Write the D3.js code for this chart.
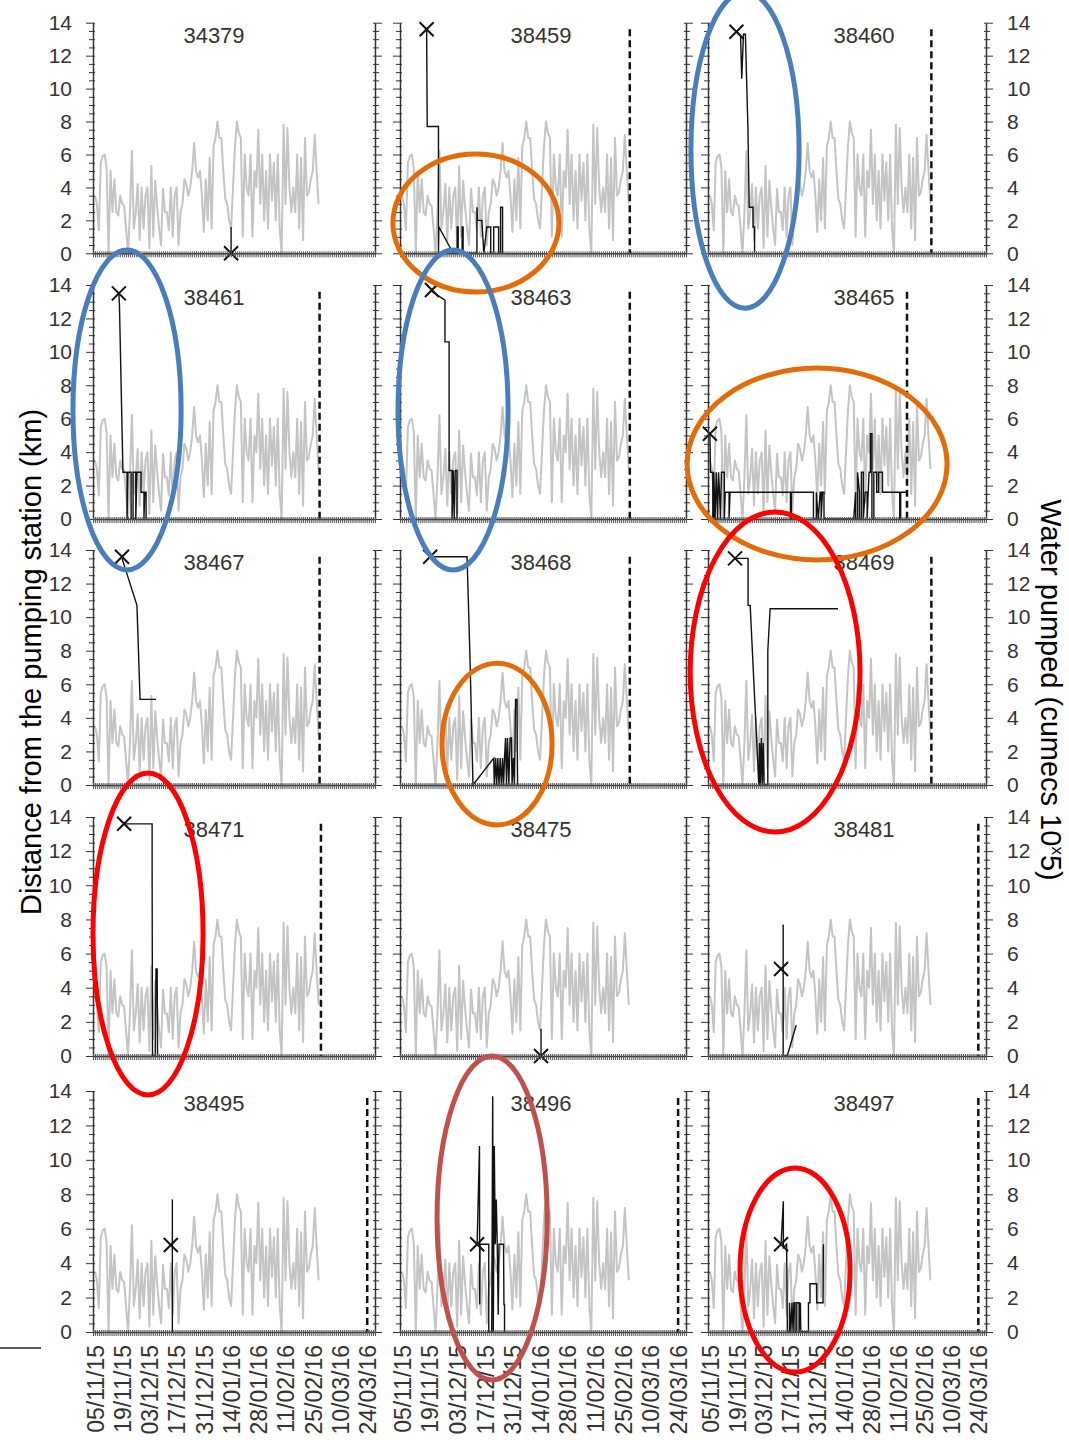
<!DOCTYPE html>
<html>
<head>
<meta charset="utf-8">
<script src="https://cdn.jsdelivr.net/npm/d3@7"></script>
<style>
  body { margin: 0; background: #fff; }
  text { font-family: "Liberation Sans", Arial, sans-serif; }
</style>
</head>
<body>
<svg id="chart" width="1069" height="1440"></svg>
<script>
// ---- data ----
// water pumped, one value per day from 05/11/15
var pumped = [3.5, 3.0, 1.4, 5.5, 5.9, 6.0, 5.2, 0, 5.0, 2.5,
  4.5, 2.5, 2.3, 3.5, 3.0, 2.9, 1.5, 0, 2.5, 6.2,
  1.5, 2.5, 4.2, 0.8, 4.0, 1.5, 3.5, 4.0, 0.3, 5.3,
  1.0, 4.4, 2.8, 1.5, 0.5, 3.9, 2.5, 2.5, 1.4, 4.0,
  1.0, 3.5, 4.0, 0.5, 2.5, 3.0, 4.5, 4.2, 3.5, 4.0,
  5.0, 6.7, 5.0, 4.6, 5.0, 3.5, 1.3, 4.5, 2.0, 5.8,
  1.5, 6.5, 7.0, 8.0, 7.0, 7.0, 5.0, 3.3, 3.0, 2.0,
  1.5, 4.0, 6.5, 8.0, 7.3, 7.0, 1.0, 6.0, 4.0, 3.5,
  6.0, 1.0, 5.0, 4.0, 7.5, 3.0, 6.0, 2.0, 5.0, 1.5,
  6.0, 3.2, 5.5, 2.0, 6.0, 1.5, 0, 7.8, 3.0, 7.6,
  4.0, 2.5, 4.0, 2.5, 6.0, 1.5, 5.8, 0.8, 7.0, 3.5,
  3.7, 4.5, 5.0, 7.2, 5.0, 3.0];

var tagIds = ["34379", "38459", "38460", "38461", "38463", "38465", "38467", "38468",
  "38469", "38471", "38475", "38481", "38495", "38496", "38497"];

// release point (day since 05/11/15, km)
var releaseDay  = [70, 12.5, 13.8, 12.3, 15.2, 0, 13.9, 14.3, 13.1, 15, 70.5, 37.1, 39, 38.1, 37.1];
var releaseDist = [0, 13.6, 13.45, 13.5, 13.7, 5.1, 13.6, 13.6, 13.5, 13.6, 0, 5.1, 5.05, 5.1, 5.1];
// last detection day (dashed line), null = none
var endDay = [null, 115.5, 115.5, 115.5, 115.5, 102.8, 115.5, 115.5, 115.5, 116.2, null, 140, 140, 140, 140];

// fish tracks: [day since 05/11/15, distance km]
var track34379 = [[70, 1.6], [70, 0]];
var track38459 = [[12.5, 13.6], [12.8, 7.7], [18.5, 7.7], [18.5, 0], [18.7, 1.6], [26, 0], [28, 0], [28, 1.6],
  [28.5, 1.6], [28.5, 0], [30.5, 0], [30.5, 1.6], [31, 1.6], [31, 0], [38, 0], [38, 2.8], [38.3, 2.0],
  [40.5, 2.0], [41.5, 0], [43, 1.6], [45, 1.6], [45, 0], [46.5, 0], [46.5, 1.6], [49, 1.6], [49, 0],
  [50, 0], [50, 2.8], [51, 2.8], [51, 0]];
var track38460 = [[13.8, 13.5], [16, 13.2], [16.6, 10.6], [17.5, 13.3], [18.5, 13.3], [19.8, 7.7],
  [20.5, 2.8], [22.5, 2.8], [22.5, 1.6], [23.3, 1.6], [23.3, 0]];
var track38461 = [[12.3, 13.5], [12.6, 12.8], [14.4, 2.8], [16.5, 2.8], [16.5, 0], [17, 2.8], [18.6, 2.8],
  [18.6, 0], [19.6, 0], [19.6, 2.8], [21, 2.8], [21, 0], [21.6, 2.8], [23.7, 2.8], [23.7, 1.6],
  [25.2, 1.6], [25.2, 0], [25.6, 1.6], [26.3, 1.6], [26.3, 0]];
var track38463 = [[15.2, 13.6], [21.8, 13.1], [21.8, 10.6], [23.9, 10.6], [23.9, 2.9], [25.4, 2.9],
  [25.4, 0], [26, 2.9], [26.5, 0], [27, 2.9], [27.9, 2.9], [27.9, 0]];
var track38465 = [[0, 5.1], [0.3, 2.8], [1.5, 2.8], [1.5, 0], [2, 0], [2, 2.8], [2.7, 0], [3.3, 2.8],
  [4, 0], [4.5, 2.8], [5, 1.6], [5.5, 0], [6, 2.8], [7.5, 2.8], [7.5, 0], [8, 1.6], [10, 1.6], [10, 0],
  [10.5, 1.6], [42, 1.6], [42, 0], [42.5, 0], [42.5, 1.6], [54, 1.6], [54, 0], [55.5, 0], [55.5, 1.6],
  [56.5, 0], [57.5, 1.6], [58, 1.6], [58, 0], [58.7, 1.6], [59.5, 1.6], [59.5, 0], [75, 0], [76, 1.6],
  [76, 0], [77, 0], [77, 2.8], [78, 1.6], [78, 0], [79, 0], [79, 2.8], [80, 2.8], [80, 0], [81, 1.6],
  [82, 1.6], [82, 0], [83, 2.8], [83.7, 2.8], [83.7, 5.1], [84.5, 5.1], [84.5, 0], [85.5, 0],
  [85.5, 2.8], [87, 2.8], [87, 1.6], [88, 1.6], [88, 2.8], [90, 2.8], [90, 1.6], [99, 1.6], [99, 0],
  [99.5, 0], [99.5, 1.6], [102.5, 1.6]];
var track38467 = [[13.9, 13.5], [21.6, 10.7], [23.2, 5.1], [31.4, 5.1]];
var track38468 = [[14.3, 13.6], [33, 13.6], [34.5, 7.5], [36, 0], [46.5, 1.6], [46.8, 0], [47.5, 1.6],
  [48, 0], [48.6, 1.6], [49.2, 0], [49.8, 1.6], [50.4, 0], [51, 1.6], [51.5, 0], [52, 1.6], [52.5, 2.8],
  [53, 0], [53.5, 2.8], [54.2, 0], [54.8, 2.8], [55.5, 2.8], [55.8, 0], [56.5, 1.6], [57, 0],
  [57.6, 5.1], [58.3, 5.1], [58.6, 0]];
var track38469 = [[13.1, 13.5], [19.9, 13.5], [19.9, 10.7], [21, 10.7], [25.5, 0], [25.9, 2.5],
  [26.3, 0], [26.8, 2.8], [27.3, 0], [27.8, 2.5], [28.3, 0], [30.2, 0], [30.2, 8], [31.4, 10.5],
  [66.8, 10.5]];
var track38471 = [[15, 13.6], [29.4, 13.6], [29.4, 10.6], [29.6, 0], [31, 0], [31.4, 5.1], [32, 5.1], [32.2, 0]];
var track38475 = [[70.5, 1.6], [70.5, 0]];
var track38481 = [[38.2, 7.7], [38.2, 0], [40.3, 0], [45, 1.8]];
var track38495 = [[39.8, 7.7], [39.8, 0]];
var track38496 = [[38.1, 5.1], [39.3, 10.8], [39.4, 1.6], [39.6, 5.1], [44, 5.1], [44, 0], [45.5, 0],
  [46, 13.7], [46.3, 0], [46.8, 10.8], [47.3, 5.1], [47.8, 7.7], [48.3, 5.1], [48.8, 1], [49.2, 5.1],
  [51.5, 5.1], [51.7, 1.6], [52, 1.6], [52, 0]];
var track38497 = [[37.1, 5.1], [38.3, 7.6], [38.3, 4.9], [40, 5.1], [40.4, 0], [41.5, 0], [41.5, 1.7],
  [42.2, 0], [42.8, 1.7], [43.4, 0], [43.8, 1.7], [44.4, 1.7], [44.4, 0], [45.3, 0], [45.3, 1.7],
  [46.5, 1.7], [46.5, 0], [47.2, 1.7], [47.4, 0], [51.4, 0], [51.4, 1.7], [52.2, 1.7], [52.2, 2.8],
  [55.7, 2.8], [55.7, 1.7], [59, 1.7], [59.2, 5.1]];

var tracks = [track34379, track38459, track38460, track38461, track38463, track38465, track38467,
  track38468, track38469, track38471, track38475, track38481, track38495, track38496, track38497];

var dateTicks = ["05/11/15", "19/11/15", "03/12/15", "17/12/15", "31/12/15", "14/01/16",
  "28/01/16", "11/02/16", "25/02/16", "10/03/16", "24/03/16"];

// highlight ellipses: panel index, centre (day, km), radii (days, km)
var ellipsePanel = [1, 2, 3, 4, 5, 8, 7, 9, 13, 14];
var ellipseDay   = [37.5, 18.3, 16.5, 25.9, 55.9, 34, 48.2, 27.3, 45.7, 44.4];
var ellipseDist  = [1.84, 6.27, 6.52, 6.52, 3.29, 6.73, 2.44, 7.15, 6.62, 3.6];
var ellipseRDay  = [42.1, 28.2, 27.8, 27.9, 67.8, 44.3, 27.9, 28.3, 27.9, 28.7];
var ellipseRDist = [4.19, 9.6, 9.57, 9.57, 5.74, 9.53, 4.82, 9.43, 9.41, 5.93];
var ellipseColor = ["#e36c09", "#4a7ebb", "#4a7ebb", "#4a7ebb", "#e36c09", "#ff0000", "#e36c09",
  "#ff0000", "#c0504d", "#ff0000"];

// ---- layout ----
var colX0 = [93, 400, 708], colX1 = [375, 686, 986];
var rowTop = [22.7, 285, 550, 817, 1091], rowBottom = [253.3, 519, 785, 1056, 1332];
var titleX = [214, 541, 864];

var parseDay = d3.utcParse("%d/%m/%y");
var day0 = parseDay("05/11/15");
var xDomain = [parseDay("04/11/15"), parseDay("28/03/16")];
function dayDate(d) { return new Date(day0.getTime() + d * 864e5); }

var svg = d3.select("#chart");
var scales = [];

tagIds.forEach(function(id, i) {
  var r = Math.floor(i / 3), c = i % 3;
  var x = d3.scaleUtc().domain(xDomain).range([colX0[c], colX1[c]]);
  var y = d3.scaleLinear().domain([0, 14]).range([rowBottom[r], rowTop[r]]);
  scales.push({x: x, y: y});
  var g = svg.append("g");

  // water pumped
  g.append("path")
    .datum(pumped)
    .attr("fill", "none")
    .attr("stroke", "#c4c4c4")
    .attr("stroke-width", 2)
    .attr("stroke-linejoin", "round")
    .attr("d", d3.line()
      .x(function(d, k) { return x(dayDate(k)); })
      .y(function(d) { return y(d); }));

  // fish track
  g.append("path")
    .datum(tracks[i])
    .attr("fill", "none")
    .attr("stroke", "#111")
    .attr("stroke-width", 1.4)
    .attr("d", d3.line()
      .x(function(d) { return x(dayDate(d[0])); })
      .y(function(d) { return y(d[1]); }));

  // last detection
  if (endDay[i] !== null) {
    g.append("line")
      .attr("x1", x(dayDate(endDay[i]))).attr("x2", x(dayDate(endDay[i])))
      .attr("y1", y(13.6)).attr("y2", y(0))
      .attr("stroke", "#111")
      .attr("stroke-width", 2.5)
      .attr("stroke-dasharray", "7,4");
  }

  // release marker
  g.append("path")
    .attr("transform", "translate(" + x(dayDate(releaseDay[i])) + "," + y(releaseDist[i]) + ")")
    .attr("d", "M-7,-7L7,7M-7,7L7,-7")
    .attr("stroke", "#111")
    .attr("stroke-width", 2);

  // y axes, both sides
  var yTicks = d3.range(0, 14.01, 0.5);
  [0, 1].forEach(function(side) {
    var dir = side === 0 ? -1 : 1;
    var showLabels = (side === 0 && c === 0) || (side === 1 && c === 2);
    var ax = (side === 0 ? d3.axisLeft(y) : d3.axisRight(y))
      .tickValues(yTicks)
      .tickSizeOuter(0)
      .tickSizeInner(4)
      .tickFormat(function(v) { return showLabels && v % 2 === 0 ? v : ""; });
    var ag = g.append("g")
      .attr("transform", "translate(" + (side === 0 ? colX0[c] : colX1[c]) + ",0)")
      .call(ax);
    ag.select(".domain").attr("stroke", "#333").attr("stroke-width", 1.5);
    ag.selectAll(".tick line")
      .attr("stroke", "#333")
      .attr("x1", -2 * dir)
      .attr("x2", function(v) { return (v % 2 === 0 ? 7 : 4) * dir; });
    ag.selectAll(".tick text")
      .attr("x", side === 0 ? -21 : 21)
      .attr("font-size", 21)
      .attr("fill", "#333");
  });

  // x axis with daily ticks
  var xg = g.append("g")
    .attr("transform", "translate(0," + y(0) + ")")
    .call(d3.axisBottom(x)
      .tickValues(d3.utcDay.range(xDomain[0], d3.utcDay.offset(xDomain[1], 1)))
      .tickSizeOuter(0)
      .tickSizeInner(4)
      .tickFormat(""));
  xg.select(".domain").attr("stroke", "#333").attr("stroke-width", 1.5);
  xg.selectAll(".tick line").attr("stroke", "#555").attr("y1", -2);

  if (r === 4) {
    var lg = g.append("g")
      .attr("transform", "translate(0," + y(0) + ")")
      .call(d3.axisBottom(x)
        .tickValues(dateTicks.map(parseDay))
        .tickSize(0)
        .tickFormat(d3.utcFormat("%d/%m/%y")));
    lg.select(".domain").remove();
    lg.selectAll("text")
      .attr("transform", "rotate(-90)")
      .attr("text-anchor", "end")
      .attr("x", -13)
      .attr("y", 0)
      .attr("dy", "0.36em")
      .attr("font-size", 23)
      .attr("fill", "#333");
  }

  // tag id
  g.append("text")
    .attr("x", titleX[c])
    .attr("y", rowTop[r] + 20)
    .attr("text-anchor", "middle")
    .attr("font-size", 22)
    .attr("fill", "#333")
    .text(id);
});

// axis titles
svg.append("text")
  .attr("transform", "translate(41,662) rotate(-90)")
  .attr("text-anchor", "middle")
  .attr("font-size", 29)
  .attr("fill", "#000")
  .text("Distance from the pumping station (km)");

var rt = svg.append("text")
  .attr("transform", "translate(1041,690) rotate(90)")
  .attr("text-anchor", "middle")
  .attr("font-size", 29)
  .attr("fill", "#000");
rt.append("tspan").text("Water pumped (cumecs 10");
rt.append("tspan").attr("font-size", 17).attr("dy", -11).text("x");
rt.append("tspan").attr("dy", 11).text("5)");

// stray rule at the bottom left
svg.append("line")
  .attr("x1", 0).attr("x2", 41).attr("y1", 1348).attr("y2", 1348)
  .attr("stroke", "#222").attr("stroke-width", 1.5);

// highlight ellipses
ellipsePanel.forEach(function(p, k) {
  var s = scales[p];
  var cx = s.x(dayDate(ellipseDay[k])), cy = s.y(ellipseDist[k]);
  svg.append("ellipse")
    .attr("cx", cx)
    .attr("cy", cy)
    .attr("rx", s.x(dayDate(ellipseDay[k] + ellipseRDay[k])) - cx)
    .attr("ry", cy - s.y(ellipseDist[k] + ellipseRDist[k]))
    .attr("fill", "none")
    .attr("stroke", ellipseColor[k])
    .attr("stroke-width", 5);
});
</script>
</body>
</html>
